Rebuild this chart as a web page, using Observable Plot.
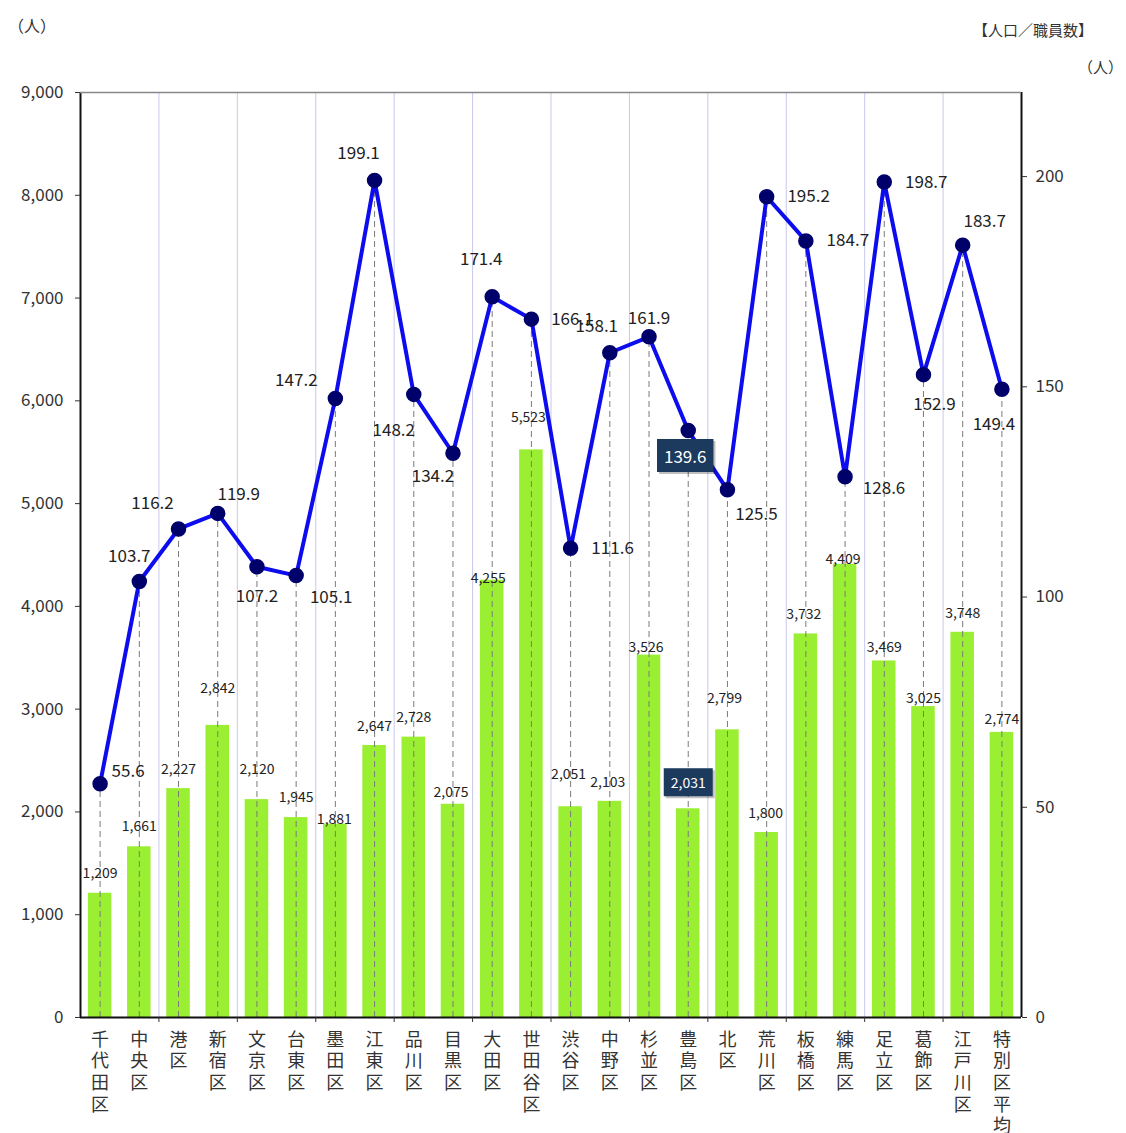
<!DOCTYPE html>
<html><head><meta charset="utf-8">
<script src="https://cdn.jsdelivr.net/npm/d3@7"></script>
<script src="https://cdn.jsdelivr.net/npm/@observablehq/plot@0.6"></script>
<style>
body{margin:0;background:#fff;font-family:"Noto Sans CJK JP",sans-serif;}
#wrap{position:relative;width:1126px;height:1133px;}
.note{position:absolute;font-size:16px;color:#333;white-space:nowrap;}
</style></head>
<body><div id="wrap">
<div class="note" style="left:8px;top:13px;">（人）</div>
<div class="note" style="left:973px;top:19px;font-size:15px;">【人口／職員数】</div>
<div class="note" style="left:1078px;top:56px;font-size:15px;">（人）</div>
</div>
<script>
const categories = ["千代田区","中央区","港区","新宿区","文京区","台東区","墨田区","江東区","品川区","目黒区","大田区","世田谷区","渋谷区","中野区","杉並区","豊島区","北区","荒川区","板橋区","練馬区","足立区","葛飾区","江戸川区","特別区平均"];
const staff = [1209,1661,2227,2842,2120,1945,1881,2647,2728,2075,4255,5523,2051,2103,3526,2031,2799,1800,3732,4409,3469,3025,3748,2774];
const ratio = [55.6,103.7,116.2,119.9,107.2,105.1,147.2,199.1,148.2,134.2,171.4,166.1,111.6,158.1,161.9,139.6,125.5,195.2,184.7,128.6,198.7,152.9,183.7,149.4];
const leftTicks = [0,1000,2000,3000,4000,5000,6000,7000,8000,9000];
const rightTicks = [0,50,100,150,200];
const highlight = "豊島区";

// label placement (pixels)
const lineDx = [28,-10,-26,21,0,35,-39,-16,-20,-20,-11,41,42,-13,0,-3,29,42,42,39,42,11,22,-8];
const lineDy = [-12,-25,-25,-19,30,22,-18,-27,36,23,-37,0,0,-26,-18,27,25,0,0,12,0,30,-24,35];
const barDx = [0,0,0,0,0,0,-1,0,0,-2,-4,-3,-2,-2,-3,0,-3,-1,-2,-2,0,0,0,0];
const barDy = [-20,-20,-19,-37,-30,-20,-5,-19,-20,-12,-2,-32,-32,-19,-8,-25,-31,-19,-19,-5,-13,-8,-19,-13];

const LEFT_MAX = 9000, RIGHT_MAX = 220, k = LEFT_MAX / RIGHT_MAX;
const data = categories.map((c, i) => ({c, i, staff: staff[i], ratio: ratio[i], yr: ratio[i] * k}));
const grid = d3.range(2, categories.length, 2);
const font = "Noto Sans CJK JP";

const marks = [
  Plot.ruleX(grid, {x: d => d, y1: 0, y2: LEFT_MAX, stroke: "#c8c8ec", strokeWidth: 1}),
  Plot.rectY(data, {x1: d => d.i + 0.2, x2: d => d.i + 0.8, y1: 0, y2: "staff", fill: "#9bef32"}),
  Plot.ruleX(data, {x: d => d.i + 0.5, y1: 0, y2: "yr", stroke: "#7a7a7a", strokeWidth: 1, strokeDasharray: "6,4"}),
  Plot.line(data, {x: d => d.i + 0.5, y: "yr", stroke: "#0c0cee", strokeWidth: 4}),
  Plot.dot(data, {x: d => d.i + 0.5, y: "yr", r: 7, fill: "#00006a", stroke: "#00006a"}),
  Plot.ruleY([0], {stroke: "#111", strokeWidth: 2}),
  Plot.ruleX([0, categories.length], {y1: 0, y2: LEFT_MAX, stroke: "#111", strokeWidth: 2}),
  Plot.ruleY([LEFT_MAX], {stroke: "#888", strokeWidth: 1.5}),
  Plot.axisY({anchor: "left", ticks: leftTicks, tickFormat: d3.format(","), tickSize: 5, tickPadding: 12, fontSize: 17, label: null}),
  Plot.axisY({anchor: "right", ticks: rightTicks.map(v => v * k), tickFormat: v => String(Math.round(v / k)), tickSize: 5, tickPadding: 9, fontSize: 17, label: null}),
  Plot.axisX({ticks: categories.map((c, i) => i + 0.5), tickFormat: v => categories[Math.floor(v)].split("").join("\n"), tickSize: 0, tickPadding: 13, fontSize: 18, lineHeight: 1.2, label: null}),
  Plot.axisX({ticks: grid, tickFormat: () => "", tickSize: 5, label: null})
];

data.forEach((d, i) => {
  const hl = d.c === highlight;
  marks.push(Plot.text([d], {x: d => d.i + 0.5, y: "yr", text: d => d.ratio.toFixed(1), dx: lineDx[i], dy: lineDy[i], fontSize: 17, fill: hl ? "#fff" : "#222", className: hl ? "hl" : undefined}));
  marks.push(Plot.text([d], {x: d => d.i + 0.5, y: "staff", text: d => d3.format(",")(d.staff), dx: barDx[i], dy: barDy[i], fontSize: 14, fill: hl ? "#fff" : "#222", className: hl ? "hl" : undefined}));
});

const chart = Plot.plot({
  width: 1126, height: 1133,
  marginLeft: 80, marginRight: 105, marginTop: 92, marginBottom: 116,
  x: {type: "linear", domain: [0, categories.length], axis: null},
  y: {domain: [0, LEFT_MAX], axis: null},
  style: {fontFamily: font, color: "#333", background: "transparent"},
  marks
});
chart.style.position = "absolute";
chart.style.left = "0px";
chart.style.top = "0px";
document.getElementById("wrap").prepend(chart);

// boxes behind highlighted labels
chart.querySelectorAll("g.hl text").forEach(t => {
  const b = t.getBBox();
  const ns = "http://www.w3.org/2000/svg";
  const g = t.parentNode;
  const mk = (dx, dy, fill) => {
    const r = document.createElementNS(ns, "rect");
    r.setAttribute("x", b.x - 7 + dx); r.setAttribute("y", b.y - 4 + dy);
    r.setAttribute("width", b.width + 14); r.setAttribute("height", b.height + 8);
    r.setAttribute("fill", fill);
    const tr = t.getAttribute("transform");
    if (tr) r.setAttribute("transform", tr);
    g.insertBefore(r, t);
  };
  mk(2, 2, "rgba(0,0,0,0.25)");
  mk(0, 0, "#1c3a5e");
});
</script>
</body></html>
